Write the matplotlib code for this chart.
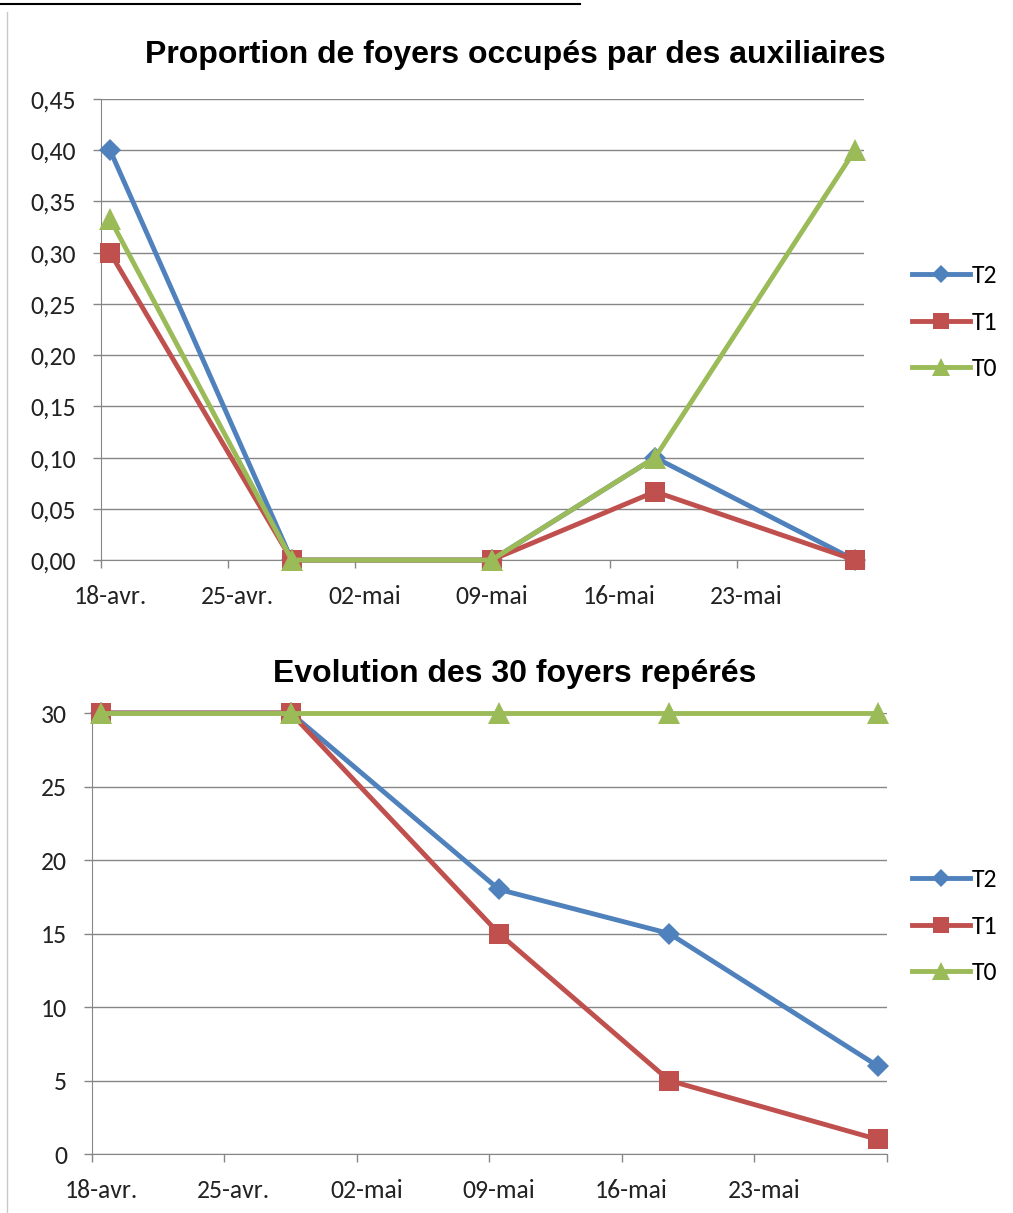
import matplotlib
matplotlib.use('Agg')
import matplotlib.pyplot as plt
from matplotlib.lines import Line2D
import numpy as np

# jours depuis le 18-avr. pour chaque releve
sample_day = [0, 10, 21, 30, 41]
tick_days = [0, 7, 14, 21, 28, 35]
tick_labels = ['18-avr.', '25-avr.', '02-mai', '09-mai', '16-mai', '23-mai']
series_names = ['T2', 'T1', 'T0']

# proportion de foyers occupes par des auxiliaires
prop_T2 = [0.40, 0.0, 0.0, 0.10, 0.0]
prop_T1 = [0.30, 0.0, 0.0, 0.0667, 0.0]
prop_T0 = [0.333, 0.0, 0.0, 0.10, 0.40]

# nombre de foyers encore reperes (sur 30)
nb_T2 = [30, 30, 18, 15, 6]
nb_T1 = [30, 30, 15, 5, 1]
nb_T0 = [30, 30, 30, 30, 30]

colors = ['#4F81BD', '#C0504D', '#9BBB59']
markers = ['D', 's', '^']
msizes = [11.5, 15, 16]
grid_col = '#868686'
label_font = ['Carlito', 'Lato', 'DejaVu Sans']
title_font = ['Liberation Sans', 'DejaVu Sans']
fs = 18.5


def excel_axes(ax):
    """ style facon Excel 2010 """
    ax.spines['right'].set_color('none')
    ax.spines['top'].set_color('none')
    ax.spines['left'].set_color(grid_col)
    ax.spines['bottom'].set_color(grid_col)
    ax.yaxis.grid(True, color=grid_col, linewidth=1)
    ax.set_axisbelow(True)
    ax.tick_params(axis='both', which='major', colors=grid_col, length=6, width=1,
                   labelsize=fs, labelcolor='#222222')
    ax.tick_params(axis='y', pad=12)
    # etiquettes de dates centrees sur la journee (comme Excel)
    ax.tick_params(axis='x', which='minor', length=0, pad=18, labelsize=fs,
                   labelcolor='#222222')
    for lab in ax.get_xticklabels(minor=True) + ax.get_yticklabels():
        lab.set_fontfamily(label_font)


def draw_chart(ax, values, title, legend_y, title_x, title_pad):
    x = np.array(sample_day) + 0.5
    handles = []
    for i, vals in enumerate(values):
        h, = ax.plot(x, vals, color=colors[i], linewidth=3.5, marker=markers[i],
                     markersize=msizes[i], markeredgewidth=0, label=series_names[i],
                     clip_on=False, zorder=3 + i)
        handles.append(h)
    ax.set_xlim(0, 42)
    ax.set_xticks(tick_days + [42])
    ax.set_xticklabels([])
    ax.set_xticks(np.array(tick_days) + 0.5, minor=True)
    ax.set_xticklabels(tick_labels, minor=True)
    ax.set_title(title, fontsize=23, fontweight='bold', family=title_font,
                 pad=title_pad, x=title_x)
    leg = ax.legend(handles, series_names, loc='center left',
                    bbox_to_anchor=(0.9, legend_y), bbox_transform=ax.figure.transFigure,
                    frameon=False, prop={'family': label_font, 'size': fs},
                    labelspacing=0.9, handlelength=2.25, handletextpad=0.08,
                    borderpad=0, borderaxespad=0)
    for h in leg.legend_handles:
        h.set_markersize(h.get_markersize() * 0.8)
    excel_axes(ax)


fig = plt.figure(figsize=(10.13, 12.13), dpi=100)

ax1 = fig.add_axes([0.0997, 0.5383, 0.7532, 0.3801])
draw_chart(ax1, [prop_T2, prop_T1, prop_T0],
           'Proportion de foyers occupés par des auxiliaires', 1 - 322 / 1213, 0.543, 26)
ax1.set_ylim(0, 0.45)
ax1.set_yticks(np.arange(0, 0.451, 0.05))
ax1.set_yticklabels([('%.2f' % v).replace('.', ',') for v in np.arange(0, 0.451, 0.05)],
                    family=label_font)

ax2 = fig.add_axes([0.0908, 0.0486, 0.7848, 0.3636])
draw_chart(ax2, [nb_T2, nb_T1, nb_T0], 'Evolution des 30 foyers repérés',
           1 - 926 / 1213, 0.532, 22)
ax2.set_ylim(0, 30)
ax2.set_yticks(range(0, 31, 5))

# bord gauche du cadre et ligne soulignee coupee en haut
fig.add_artist(Line2D([7 / 1013, 7 / 1013], [0, 1 - 12 / 1213], color='#C8C8C8', linewidth=1))
fig.add_artist(Line2D([0, 580 / 1013], [1 - 4 / 1213, 1 - 4 / 1213], color='black', linewidth=1.5))

fig.savefig('out.png', dpi=100)
